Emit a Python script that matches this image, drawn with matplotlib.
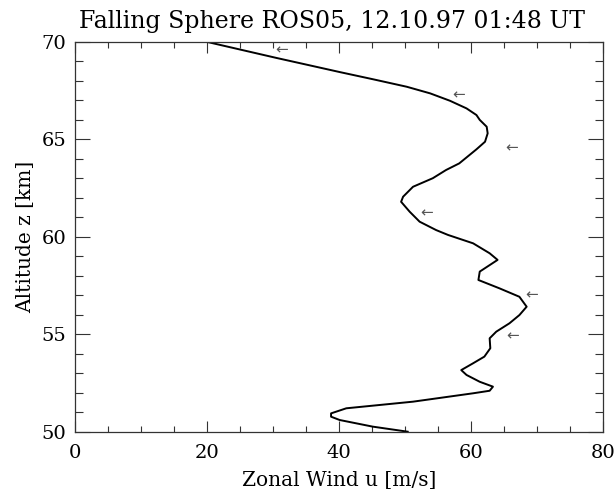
import matplotlib
matplotlib.use("Agg")
import matplotlib.pyplot as plt
from matplotlib.ticker import MultipleLocator

# Zonal wind profile (m/s) vs altitude (km)
wind_u = [19.9, 30.5, 35.0, 40.15, 45.2, 50.25, 53.8, 56.8, 59.3, 60.8, 61.3, 62.35,
          62.5, 62.1, 60.8, 58.2, 56.2, 54.2, 51.2, 49.7, 49.4, 50.7, 52.2, 54.7,
          56.5, 60.3, 62.8, 64.0, 61.3, 61.1, 64.3, 67.3, 68.4, 67.3, 65.8, 63.8,
          62.8, 62.9, 62.0, 60.3, 58.5, 59.3, 61.3, 63.3, 62.8, 60.3, 51.2, 41.1,
          38.8, 38.8, 40.1, 45.1, 50.4]
altitude_z = [70.0, 69.17, 68.83, 68.44, 68.07, 67.69, 67.35, 66.97, 66.58, 66.24,
              65.99, 65.64, 65.30, 64.87, 64.48, 63.76, 63.42, 63.0, 62.56, 62.05,
              61.79, 61.28, 60.77, 60.34, 60.09, 59.66, 59.15, 58.81, 58.21, 57.78,
              57.35, 56.92, 56.41, 55.98, 55.56, 55.13, 54.79, 54.28, 53.85, 53.51,
              53.16, 52.91, 52.56, 52.31, 52.10, 51.97, 51.54, 51.20, 50.94, 50.77,
              50.60, 50.26, 50.0]

# Arrow markers (positions)
arrow_u = [31.3, 58.1, 66.1, 53.3, 69.1, 66.3]
arrow_z = [69.57, 67.27, 64.53, 61.23, 57.01, 54.92]

title = "Falling Sphere ROS05, 12.10.97 01:48 UT"
xlabel = "Zonal Wind u [m/s]"
ylabel = "Altitude z [km]"

plt.rcParams['font.family'] = ['DejaVu Serif']

fig = plt.figure(figsize=(6.15, 4.98), dpi=100)
ax = fig.add_axes([74.7 / 615, 1 - 431.7 / 498, (603.3 - 74.7) / 615, (431.7 - 41.7) / 498])

ax.plot(wind_u, altitude_z, color='black', linewidth=1.4)
for u, z in zip(arrow_u, arrow_z):
    ax.text(u, z, "\u2190", ha='center', va='center', fontsize=11,
            color='#555555', family='DejaVu Sans')

ax.set_xlim(0, 80)
ax.set_ylim(50, 70)
ax.xaxis.set_major_locator(MultipleLocator(20))
ax.xaxis.set_minor_locator(MultipleLocator(5))
ax.yaxis.set_major_locator(MultipleLocator(5))
ax.yaxis.set_minor_locator(MultipleLocator(1))
ax.tick_params(which='both', direction='in', top=True, right=True, color='#333333', width=0.8)
ax.tick_params(axis='x', which='major', length=8, pad=9, labelsize=14)
ax.tick_params(axis='x', which='minor', length=4)
ax.tick_params(axis='y', which='major', length=11, pad=6, labelsize=14)
ax.tick_params(axis='y', which='minor', length=5.5)
for s in ax.spines.values():
    s.set_color('#333333')
    s.set_linewidth(0.9)

ax.set_xlabel(xlabel, fontsize=14.5, labelpad=6)
ax.set_ylabel(ylabel, fontsize=14.5, labelpad=5)
fig.text(332 / 615, 1 - 28.3 / 498, title, ha='center', va='baseline', fontsize=17)

fig.savefig("out.png", dpi=100)
